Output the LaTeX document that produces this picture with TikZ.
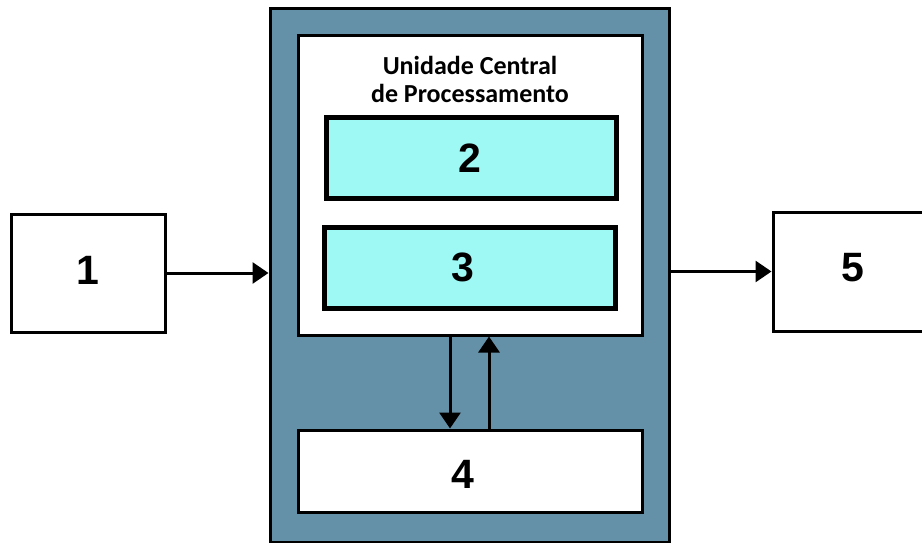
\documentclass[tikz,border=0pt]{standalone}
\usepackage{fontspec}
\setmainfont{Liberation Sans}
\newfontfamily\titlefont{Carlito}
\usetikzlibrary{arrows.meta,calc}
\definecolor{cpublue}{RGB}{101,145,168}
\definecolor{regcyan}{RGB}{158,248,244}
\tikzset{
  boxthin/.style={draw=black,line width=3pt,rectangle,inner sep=0pt},
  boxthick/.style={draw=black,line width=5pt,rectangle,inner sep=0pt,fill=regcyan},
  numlabel/.style={font=\fontsize{41}{41}\selectfont\bfseries},
  flow/.style={line width=3pt,-{Triangle[length=16pt,width=21pt]}}
}
\begin{document}
\begin{tikzpicture}[x=1pt,y=-1pt]
\useasboundingbox (0,0) rectangle (922,543);
\clip (0,0) rectangle (922,543);
\fill[white] (0,0) rectangle (922,543);
% outer CPU enclosure
\node[boxthin,fill=cpublue,minimum width=399pt,minimum height=533pt] (cpu) at (469.5,275.5) {};
% inner white area
\node[boxthin,fill=white,minimum width=344pt,minimum height=299pt] (uc) at (470,185.5) {};
\node[font=\titlefont\fontsize{26}{28}\selectfont\bfseries,align=center,inner sep=0pt] (title) at (470,79) {Unidade Central\\de Processamento};
% registers
\node[boxthick,minimum width=290pt,minimum height=80pt] (b2) at (471,158) {};
\node[numlabel] (l2) at (470,158) {2};
\node[boxthick,minimum width=291pt,minimum height=81pt] (b3) at (469.5,267.5) {};
\node[numlabel] (l3) at (463,267.5) {3};
% memory
\node[boxthin,fill=white,minimum width=344pt,minimum height=82pt] (b4) at (470,471) {};
\node[numlabel] (l4) at (463,474) {4};
% input / output
\node[boxthin,fill=white,minimum width=154pt,minimum height=118pt] (b1) at (88,273) {};
\node[numlabel] (l1) at (88,270) {1};
\node[boxthin,fill=white,minimum width=170pt,minimum height=119pt] (b5) at (858,271.5) {};
\node[numlabel] (l5) at (853,268) {5};
% connectors
\draw[flow] (b1.east) -- (b1.east -| cpu.west);
\draw[flow] (cpu.east |- b5.west) -- (b5.west);
\coordinate (dtop) at ([xshift=-20pt]uc.south);
\coordinate (utop) at ([xshift=19pt]uc.south);
\draw[flow] (dtop) -- (dtop |- b4.north);
\draw[flow] (utop |- b4.north) -- (utop);
\end{tikzpicture}
\end{document}
